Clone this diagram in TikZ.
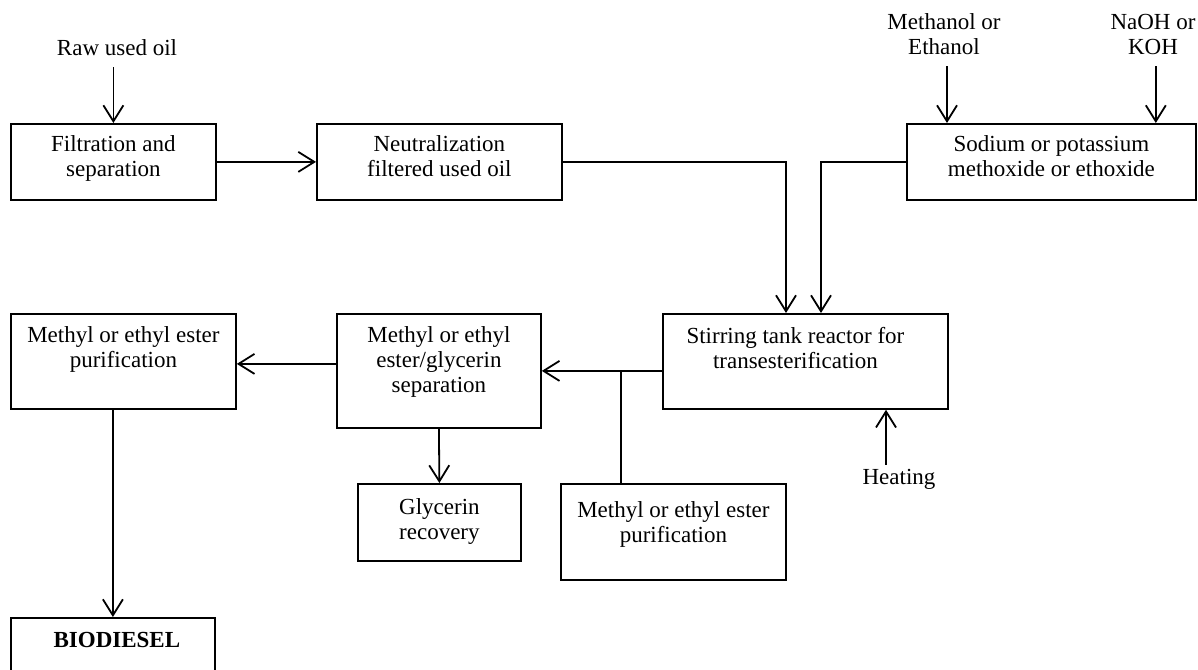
\documentclass[tikz,border=0pt]{standalone}
\usepackage{fontspec}
\setmainfont{Liberation Serif}
\usetikzlibrary{arrows.meta}
\newcommand\dfont{\fontsize{11.5pt}{12.5pt}\selectfont}
\newcommand\mkbox[5]{\node[box, minimum width=#4*0.5pt, minimum height=#5*0.5pt] (#1) at (#2,#3) {};}
\tikzset{
 box/.style={draw, line width=0.9pt, inner sep=0pt, anchor=north west},
 txt/.style={font=\dfont, align=center, inner sep=0pt, anchor=north},
 lbl/.style={font=\dfont, align=center, inner sep=0pt},
 arr/.style={-{Straight Barb[length=8pt,width=10pt]}, line width=0.9pt},
 ln/.style={line width=0.9pt}
}
\begin{document}
\begin{tikzpicture}[x=0.5pt,y=-0.5pt]
\useasboundingbox (0,0) rectangle (1198,669);
\clip (0,0) rectangle (1198,669);
% boxes
\mkbox{filt}{10}{123}{205}{76}
\mkbox{neut}{316}{123}{245}{76}
\mkbox{sod}{906}{123}{289}{76}
\mkbox{reac}{662}{313}{285}{95}
\mkbox{sep}{336}{313}{204}{114}
\mkbox{pur1}{10}{313}{225}{95}
\mkbox{gly}{357}{483}{163}{77}
\mkbox{pur2}{560}{483}{225}{96}
\mkbox{bio}{10}{617}{204}{110}
% box texts
\node[txt] (filt-t) at ([yshift=-6.2pt]filt.north) {Filtration and\\separation};
\node[txt] (neut-t) at ([yshift=-6.2pt]neut.north) {Neutralization\\filtered used oil};
\node[txt] (sod-t) at ([yshift=-6.2pt]sod.north) {Sodium or potassium\\methoxide or ethoxide};
\node[txt] (reac-t) at ([xshift=-5pt,yshift=-6.7pt]reac.north) {Stirring tank reactor for\\transesterification};
\node[txt] (sep-t) at ([yshift=-6.7pt]sep.north) {Methyl or ethyl\\ester/glycerin\\separation};
\node[txt] (pur1-t) at ([yshift=-6.7pt]pur1.north) {Methyl or ethyl ester\\purification};
\node[txt] (gly-t) at ([yshift=-7.7pt]gly.north) {Glycerin\\recovery};
\node[txt] (pur2-t) at ([yshift=-9.2pt]pur2.north) {Methyl or ethyl ester\\purification};
\node[txt] (bio-t) at ([xshift=2pt,yshift=-7.2pt]bio.north) {\textbf{BIODIESEL}};
% free labels
\node[lbl, anchor=base] (raw) at (117,55) {Raw used oil};
\node[lbl, anchor=north] (meth) at (944,13.4) {Methanol or\\Ethanol};
\node[lbl, anchor=north] (naoh) at (1153,13.4) {NaOH or\\KOH};
\node[lbl, anchor=base] (heat) at (899,484) {Heating};
% connectors
\draw[arr] ([yshift=28pt]filt.north) -- (filt.north);
\draw[arr] ([xshift=20.5pt,yshift=28.5pt]sod.north west) -- ([xshift=20.5pt]sod.north west);
\draw[arr] ([xshift=-20.5pt,yshift=28.5pt]sod.north east) -- ([xshift=-20.5pt]sod.north east);
\draw[arr] (filt.east) -- (neut.west);
\draw[arr] (neut.east) -| ([xshift=62pt]reac.north west);
\draw[arr] (sod.west) -| ([xshift=79.5pt]reac.north west);
\draw[arr] (reac.west |- sep.east) -- (sep.east);
\coordinate (j) at ([xshift=30.5pt]pur2.north west |- sep.east);
\draw[ln] (j) -- (j |- pur2.north);
\draw[arr] ([yshift=3.5pt]sep.west) -- ([yshift=3.5pt]sep.west -| pur1.east);
\draw[arr] (pur1.south -| bio.north) -- (bio.north);
\draw[arr] (sep.south) -- (gly.north);
\draw[arr] ([xshift=-6.5pt,yshift=1.7pt]heat.north) -- ([xshift=-6.5pt]heat.north |- reac.south);
\end{tikzpicture}
\end{document}
